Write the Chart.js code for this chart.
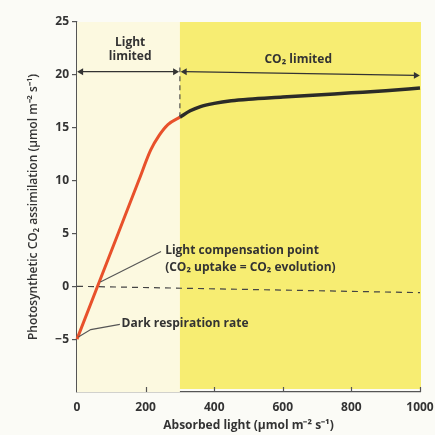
<!DOCTYPE html>
<html>
  <head>
    <title>Light response curve</title>
    <script src="https://cdn.jsdelivr.net/npm/chart.js@4.4.1/dist/chart.umd.min.js"></script>
    <style>
      body { margin: 0; background: #fbfbf6; }
      #wrap { width: 435px; height: 435px; }
    </style>
  </head>
  <body>
    <div id="wrap"><canvas id="myChart"></canvas></div>

    <script>
      // values
      const lightLevels = [0, 60, 120, 180, 215, 240, 265, 300]
      const lightLimitedRate = [-5, 0, 5, 10, 12.9, 14.3, 15.3, 16.0]
      const co2Levels = [300, 330, 360, 400, 450, 500, 600, 700, 800, 900, 1000]
      const co2LimitedRate = [16.0, 16.6, 17.0, 17.3, 17.55, 17.7, 17.9, 18.1, 18.3, 18.5, 18.75]
      const zeroLineX = [0, 1000]
      const zeroLineY = [0, -0.6]
      const limitBoundary = 300
      const boundaryY = [16.0, 20.7]
      const lightArrowX = [12, 286]
      const lightArrowY = [20.3, 20.3]
      const co2ArrowX = [314, 988]
      const co2ArrowY = [20.3, 19.95]
      const xTicks = [0, 200, 400, 600, 800, 1000]
      const yTicks = [-5, 0, 5, 10, 15, 20, 25]

      const ink = '#333'
      const axisColor = '#555'
      const font = { family: 'Open Sans', size: 12, weight: 'bold' }

      const pts = (xs, ys) => xs.map((x, i) => ({ x: x, y: ys[i] }))

      // cream / yellow panels, text labels and inward x ticks
      const decor = {
        id: 'decor',
        beforeDatasetsDraw(chart) {
          const { ctx, chartArea: a, scales: { x } } = chart
          const xb = x.getPixelForValue(limitBoundary)
          ctx.save()
          ctx.fillStyle = '#fcf9e0'
          ctx.fillRect(a.left, a.top, xb - a.left, a.bottom - a.top)
          ctx.fillStyle = '#f7ed72'
          ctx.fillRect(xb, a.top, a.right - xb + 1, a.bottom - a.top - 3)
          ctx.restore()
        },
        afterDraw(chart) {
          const { ctx, chartArea: a, scales: { x, y } } = chart
          ctx.save()
          ctx.strokeStyle = axisColor
          ctx.lineWidth = 1.2
          xTicks.slice(1).forEach(v => {
            const px = Math.round(x.getPixelForValue(v)) + 0.5
            ctx.beginPath()
            ctx.moveTo(px, a.bottom)
            ctx.lineTo(px, a.bottom - 5)
            ctx.stroke()
          })

          ctx.fillStyle = ink
          ctx.font = 'bold 12px "Open Sans"'
          ctx.textBaseline = 'middle'
          ctx.textAlign = 'center'
          ctx.fillText('Light', x.getPixelForValue(155), y.getPixelForValue(23.1))
          ctx.fillText('limited', x.getPixelForValue(155), y.getPixelForValue(21.7))
          ctx.fillText('CO\u2082 limited', x.getPixelForValue(645), y.getPixelForValue(21.4))
          ctx.textAlign = 'left'
          ctx.fillText('Light compensation point', x.getPixelForValue(257), y.getPixelForValue(3.4))
          ctx.fillText('(CO\u2082 uptake = CO\u2082 evolution)', x.getPixelForValue(257), y.getPixelForValue(1.8))
          ctx.fillText('Dark respiration rate', x.getPixelForValue(130), y.getPixelForValue(-3.5))
          ctx.restore()
        }
      }

      const leader = (xs, ys) => ({
        data: pts(xs, ys), borderColor: '#555', borderWidth: 1.1,
        pointRadius: 0, clip: false
      })

      const arrow = (xs, ys) => ({
        data: pts(xs, ys), borderColor: '#333', borderWidth: 1.2,
        pointStyle: 'triangle', pointRadius: 4, pointRotation: [-90, 90],
        pointBackgroundColor: '#333', pointBorderColor: '#333', pointBorderWidth: 0,
        clip: false
      })

      new Chart('myChart', {
        type: 'line',
        data: {
          datasets: [
            { data: pts(zeroLineX, zeroLineY), borderColor: '#444', borderWidth: 1.2, borderDash: [6, 5], pointRadius: 0 },
            { data: [{ x: limitBoundary, y: boundaryY[0] }, { x: limitBoundary, y: boundaryY[1] }],
              borderColor: '#444', borderWidth: 1.1, borderDash: [5, 4], pointRadius: 0 },
            arrow(lightArrowX, lightArrowY),
            arrow(co2ArrowX, co2ArrowY),
            leader([68, 245], [0.4, 3.3]),
            leader([4, 40, 125], [-4.8, -4.1, -3.6]),
            { data: pts(lightLevels, lightLimitedRate), borderColor: '#e8512b', borderWidth: 3,
              cubicInterpolationMode: 'monotone', pointRadius: 0, clip: false },
            { data: pts(co2Levels, co2LimitedRate), borderColor: '#2b2b28', borderWidth: 3.5,
              cubicInterpolationMode: 'monotone', pointRadius: 0, clip: false }
          ]
        },
        options: {
          responsive: true,
          maintainAspectRatio: false,
          animation: false,
          layout: { padding: { left: 26, right: 15, top: 22, bottom: 2 } },
          plugins: { legend: { display: false }, tooltip: { enabled: false } },
          scales: {
            x: {
              type: 'linear', min: 0, max: 1000,
              afterBuildTicks: s => { s.ticks = xTicks.map(v => ({ value: v })) },
              afterFit: s => { s.height = 41; s.paddingRight = 0; s.paddingLeft = 0 },
              grid: { drawOnChartArea: false, drawTicks: false },
              border: { display: true, color: axisColor, width: 1.2 },
              ticks: { color: ink, font: font, padding: 8, callback: v => String(v) },
              title: { display: true, text: 'Absorbed light (\u00b5mol m\u207b\u00b2 s\u207b\u00b9)',
                       color: ink, font: font, padding: { top: 2, bottom: 0 } }
            },
            y: {
              min: -10, max: 25,
              afterBuildTicks: s => { s.ticks = yTicks.map(v => ({ value: v })) },
              afterFit: s => { s.width = 51 },
              grid: { drawOnChartArea: false, drawTicks: true, tickLength: 5, color: axisColor, lineWidth: 1.2 },
              border: { display: true, color: axisColor, width: 1.2 },
              ticks: { color: ink, font: font, padding: 3,
                       callback: v => v < 0 ? '\u2212' + Math.abs(v) : String(v) },
              title: { display: true, text: 'Photosynthetic CO\u2082 assimilation (\u00b5mol m\u207b\u00b2 s\u207b\u00b9)',
                       color: ink, font: { family: 'Open Sans', size: 12, weight: '600' }, padding: { top: 0, bottom: 0 } }
            }
          }
        },
        plugins: [decor]
      })
    </script>
  </body>
</html>
